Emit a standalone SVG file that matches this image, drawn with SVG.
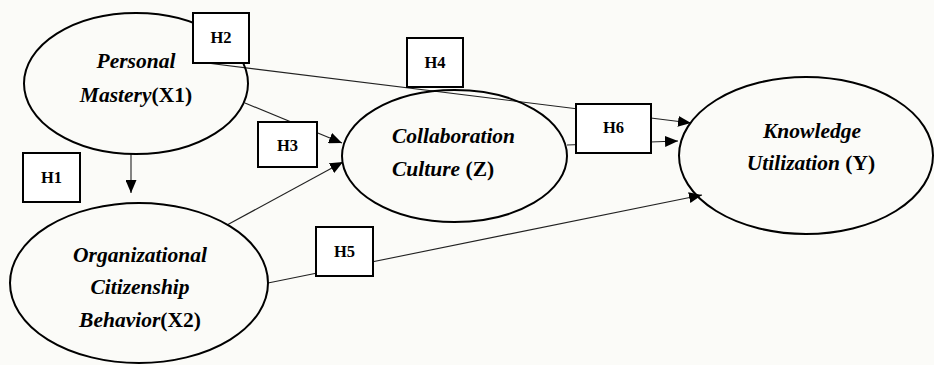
<svg xmlns="http://www.w3.org/2000/svg" width="934" height="365" viewBox="0 0 934 365">
<defs>
<marker id="arr" markerWidth="13" markerHeight="11" refX="13" refY="5.5" orient="auto" markerUnits="userSpaceOnUse">
<path d="M0,0 L13,5.5 L0,11 Z" fill="#000"/>
</marker>
<style>
.bg{fill:#fbfbf8}
.ell{fill:none;stroke:#000;stroke-width:2}
.box{fill:#fff;stroke:#000;stroke-width:2}
.ln{fill:none;stroke:#222;stroke-width:1.1}
.ar{marker-end:url(#arr)}
.lbl{font-family:"Liberation Serif","Times New Roman",serif;font-size:21.5px;font-weight:bold;font-style:italic;fill:#000}
.up{font-style:normal}
.h{font-family:"Liberation Serif","Times New Roman",serif;font-size:16.5px;font-weight:bold;fill:#000;text-anchor:middle}
</style>
</defs>
<rect class="bg" x="0" y="0" width="934" height="365"/>
<g id="connectors">
<line class="ln ar" x1="131" y1="154" x2="131" y2="193"/>
<line class="ln ar" x1="207" y1="63" x2="691" y2="123"/>
<line class="ln ar" x1="245" y1="103" x2="342" y2="143"/>
<line class="ln ar" x1="227" y1="225" x2="343" y2="162"/>
<line class="ln ar" x1="567" y1="145" x2="678" y2="141"/>
<line class="ln ar" x1="268" y1="283" x2="702" y2="195"/>
</g>
<g id="node-x1">
<ellipse class="ell" cx="136" cy="83.5" rx="112" ry="70.5"/>
<text class="lbl" x="136" y="68" text-anchor="middle">Personal</text>
<text class="lbl" x="136" y="102" text-anchor="middle">Mastery<tspan class="up">(X1)</tspan></text>
</g>
<g id="node-x2">
<ellipse class="ell" cx="139" cy="283" rx="129" ry="80"/>
<text class="lbl" x="140" y="262" text-anchor="middle">Organizational</text>
<text class="lbl" x="140" y="294" text-anchor="middle">Citizenship</text>
<text class="lbl" x="140" y="327" text-anchor="middle">Behavior<tspan class="up">(X2)</tspan></text>
</g>
<g id="node-z">
<ellipse class="ell" cx="454.5" cy="156" rx="112.5" ry="66"/>
<text class="lbl" x="392" y="143">Collaboration</text>
<text class="lbl" x="392" y="176">Culture <tspan class="up">(Z)</tspan></text>
</g>
<g id="node-y">
<ellipse class="ell" cx="806" cy="155.5" rx="127" ry="78.5"/>
<text class="lbl" x="812" y="138" text-anchor="middle">Knowledge</text>
<text class="lbl" x="811" y="170" text-anchor="middle">Utilization <tspan class="up">(Y)</tspan></text>
</g>
<g id="h1"><rect class="box" x="23" y="153" width="57" height="49"/><text class="h" x="51.5" y="183">H1</text></g>
<g id="h2"><rect class="box" x="193" y="13" width="56" height="50"/><text class="h" x="221" y="43">H2</text></g>
<g id="h3"><rect class="box" x="258" y="122" width="59" height="45"/><text class="h" x="287.5" y="151">H3</text></g>
<g id="h4"><rect class="box" x="407" y="38" width="56" height="49"/><text class="h" x="435" y="68">H4</text></g>
<g id="h5"><rect class="box" x="316" y="227" width="57" height="49"/><text class="h" x="344.5" y="257">H5</text></g>
<g id="h6"><rect class="box" x="576" y="104" width="75" height="49"/><text class="h" x="613.5" y="133">H6</text></g>
</svg>
